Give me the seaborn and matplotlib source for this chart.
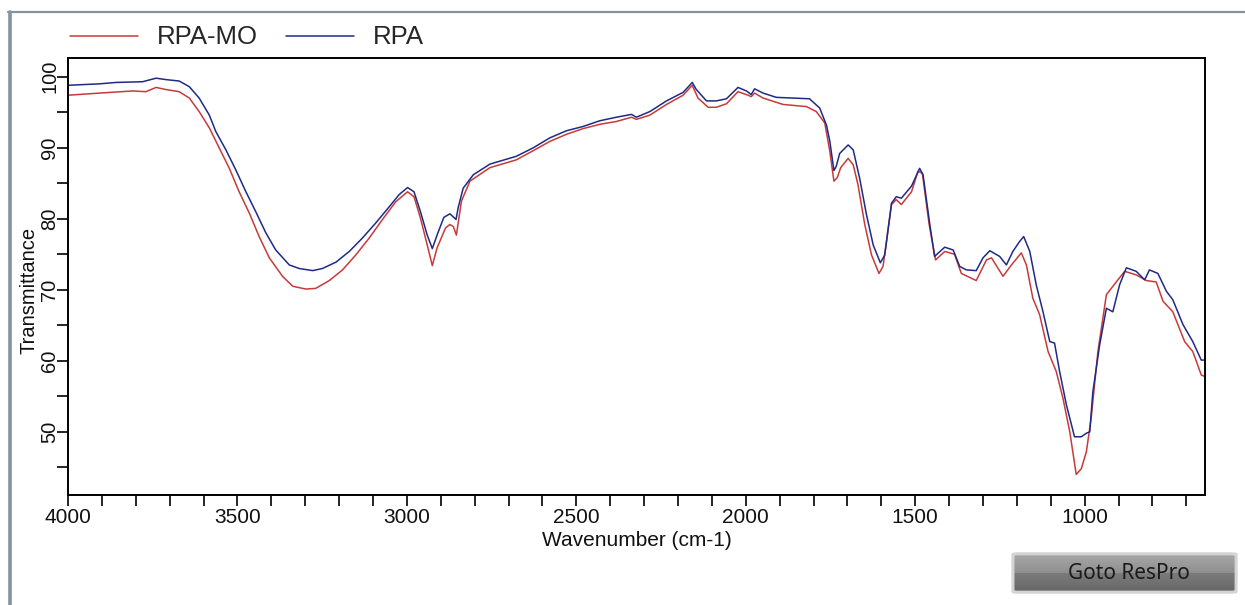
import numpy as np
import pandas as pd
import matplotlib
matplotlib.use("Agg")
import matplotlib.pyplot as plt
import seaborn as sns
from matplotlib import font_manager
from matplotlib.patches import FancyBboxPatch
from matplotlib.ticker import MultipleLocator, FuncFormatter

# FTIR spectra: wavenumber (cm-1) and transmittance (%)
rpa_mo_wn = [4000, 3908, 3809, 3770, 3740, 3711, 3672, 3642, 3613, 3583, 3554, 3524,
             3495, 3465, 3436, 3406, 3367, 3337, 3298, 3269, 3229, 3190, 3151, 3111,
             3072, 3033, 2998, 2979, 2960, 2940, 2925, 2911, 2886, 2873, 2863, 2854,
             2839, 2814, 2755, 2677, 2627, 2578, 2529, 2480, 2431, 2382, 2337, 2323,
             2283, 2234, 2185, 2158, 2141, 2111, 2087, 2057, 2023, 1993, 1984, 1974,
             1949, 1890, 1821, 1792, 1767, 1752, 1740, 1730, 1720, 1698, 1683, 1669,
             1649, 1629, 1607, 1595, 1570, 1556, 1541, 1511, 1492, 1479, 1459, 1440,
             1413, 1384, 1364, 1320, 1290, 1275, 1241, 1216, 1187, 1172, 1153, 1133,
             1108, 1084, 1064, 1044, 1025, 1010, 995, 981, 961, 936, 907, 882,
             848, 818, 789, 769, 740, 705, 681, 656, 646]
rpa_mo_t = [97.4, 97.7, 98.0, 97.9, 98.5, 98.2, 97.9, 97.0, 95.1, 92.8, 90.0, 87.1,
            83.8, 80.8, 77.5, 74.5, 71.9, 70.5, 70.1, 70.2, 71.3, 72.8, 74.9, 77.3,
            79.9, 82.4, 83.8, 83.1, 80.1, 76.3, 73.4, 75.9, 78.7, 79.2, 78.9, 77.7,
            82.5, 85.3, 87.2, 88.3, 89.6, 90.9, 91.9, 92.7, 93.3, 93.7, 94.3, 94.0,
            94.6, 96.1, 97.4, 98.8, 97.0, 95.7, 95.7, 96.2, 97.9, 97.4, 97.2, 97.7,
            97.0, 96.1, 95.8, 95.1, 93.5, 89.5, 85.3, 85.8, 87.2, 88.5, 87.6, 84.8,
            79.2, 74.9, 72.3, 73.3, 82.0, 82.7, 82.0, 83.8, 86.7, 86.4, 79.2, 74.2,
            75.4, 75.0, 72.3, 71.3, 74.2, 74.5, 71.9, 73.5, 75.2, 73.5, 68.8, 66.5,
            61.3, 58.5, 54.7, 50.0, 44.0, 44.8, 47.2, 51.9, 61.3, 69.3, 71.1, 72.6,
            72.1, 71.3, 71.1, 68.4, 66.9, 62.7, 61.3, 58.0, 57.8]

rpa_wn = [4000, 3908, 3858, 3780, 3740, 3711, 3672, 3642, 3613, 3583, 3564, 3534,
          3505, 3475, 3446, 3416, 3387, 3347, 3318, 3278, 3249, 3209, 3170, 3131,
          3092, 3052, 3023, 2998, 2979, 2960, 2940, 2925, 2911, 2891, 2873, 2855,
          2849, 2834, 2804, 2755, 2677, 2627, 2578, 2529, 2480, 2431, 2382, 2337,
          2323, 2283, 2234, 2185, 2158, 2146, 2116, 2087, 2057, 2023, 1998, 1984,
          1974, 1949, 1910, 1861, 1812, 1782, 1762, 1752, 1740, 1733, 1723, 1698,
          1683, 1664, 1644, 1624, 1603, 1590, 1570, 1556, 1541, 1511, 1487, 1477,
          1457, 1443, 1413, 1388, 1369, 1349, 1320, 1300, 1280, 1251, 1231, 1212,
          1192, 1180, 1162, 1143, 1123, 1103, 1089, 1074, 1054, 1030, 1010, 995,
          985, 976, 956, 936, 917, 897, 877, 848, 823, 809, 784, 759,
          740, 710, 681, 656, 646]
rpa_t = [98.8, 99.0, 99.2, 99.3, 99.8, 99.6, 99.4, 98.6, 97.0, 94.6, 92.3, 89.7,
         86.9, 83.8, 81.0, 78.0, 75.6, 73.5, 73.0, 72.7, 73.0, 73.9, 75.4, 77.3,
         79.4, 81.7, 83.4, 84.4, 83.8, 81.0, 77.7, 75.8, 77.7, 80.2, 80.7, 79.9,
         81.5, 84.3, 86.2, 87.7, 88.8, 90.0, 91.4, 92.4, 93.0, 93.8, 94.3, 94.7,
         94.3, 95.1, 96.6, 97.8, 99.2, 98.2, 96.6, 96.6, 96.9, 98.5, 98.0, 97.5,
         98.3, 97.7, 97.1, 97.0, 96.9, 95.6, 93.2, 90.9, 86.8, 87.4, 89.2, 90.4,
         89.7, 85.7, 80.6, 76.3, 73.8, 74.9, 82.2, 83.1, 82.9, 84.6, 87.1, 86.2,
         79.2, 74.7, 76.0, 75.6, 73.3, 72.8, 72.7, 74.5, 75.5, 74.7, 73.5, 75.4,
         76.8, 77.5, 75.4, 70.7, 66.9, 62.7, 62.5, 58.5, 53.8, 49.3, 49.3, 49.8,
         50.0, 55.6, 62.2, 67.4, 66.9, 70.7, 73.1, 72.6, 71.4, 72.8, 72.3, 69.8,
         68.6, 65.1, 62.7, 60.1, 60.1]

series_names = ["RPA-MO", "RPA"]
series_colors = ["#c83a3a", "#1f2a86"]
x_major_labels = [4000, 3500, 3000, 2500, 2000, 1500, 1000]
y_major_labels = [50, 60, 70, 80, 90, 100]

df = pd.concat([
    pd.DataFrame({"Wavenumber": rpa_mo_wn, "Transmittance": rpa_mo_t, "Sample": series_names[0]}),
    pd.DataFrame({"Wavenumber": rpa_wn, "Transmittance": rpa_t, "Sample": series_names[1]}),
], ignore_index=True)

sns.set_style("white")
installed = {f.name for f in font_manager.fontManager.ttflist}
narrow = "Liberation Sans Narrow" if "Liberation Sans Narrow" in installed else "Liberation Sans"
plt.rcParams["font.family"] = ["Liberation Sans", "DejaVu Sans"]

W, H = 1245, 605
fig = plt.figure(figsize=(W / 100, H / 100), dpi=100)
fig.patch.set_facecolor("white")
ax = fig.add_axes([68 / W, 1 - 495 / H, (1205 - 68) / W, (495 - 58.3) / H])

sns.lineplot(data=df, x="Wavenumber", y="Transmittance", hue="Sample",
             hue_order=series_names, palette=dict(zip(series_names, series_colors)),
             estimator=None, sort=False, linewidth=1.1, ax=ax, legend=False)

ax.set_xlim(4000, 645)
ax.set_ylim(41.1, 102.6)

for s in ax.spines.values():
    s.set_visible(True)
    s.set_color("black")
    s.set_linewidth(1.4)

ax.xaxis.set_major_locator(MultipleLocator(100))
ax.yaxis.set_major_locator(MultipleLocator(5))
ax.xaxis.set_major_formatter(FuncFormatter(
    lambda v, p: f"{int(round(v))}" if int(round(v)) in x_major_labels else ""))
ax.yaxis.set_major_formatter(FuncFormatter(
    lambda v, p: f"{int(round(v))}" if int(round(v)) in y_major_labels else ""))
ax.tick_params(axis="both", direction="out", length=7.8, width=1.2, color="black",
               bottom=True, left=True, top=False, right=False)
ax.tick_params(axis="x", labelsize=15, pad=1.5, labelcolor="#111111")
ax.tick_params(axis="y", labelsize=14.5, pad=-1.5, labelcolor="#111111")
for lbl in ax.get_yticklabels():
    lbl.set_rotation(90)
    lbl.set_family(narrow)
    lbl.set_rotation_mode("anchor")
    lbl.set_ha("center")
    lbl.set_va("bottom")

ax.set_xlabel("Wavenumber (cm-1)", fontsize=15, color="#111111")
ax.xaxis.label.set_va("top")
ax.xaxis.set_label_coords(0.5, -0.082)
ax.set_ylabel("Transmittance", fontsize=14.5, color="#111111", family=narrow)
ax.yaxis.label.set_va("center")
ax.yaxis.set_label_coords(-0.0345, 0.469)

# legend strip above the plot
handles = [plt.Line2D([], [], color=c, lw=1.1) for c in series_colors]
fig.legend(handles, series_names, loc="center left",
           bbox_to_anchor=(70 / W, 1 - 37.5 / H), ncol=2, frameon=False,
           fontsize=18.5, handlelength=2.65, handletextpad=0.72,
           columnspacing=1.1, borderpad=0, borderaxespad=0)

# window frame edges
fig.add_artist(plt.Line2D([9.5 / W, 9.5 / W], [0, 1 - 11.5 / H],
                          transform=fig.transFigure, color="#8592a4", lw=2.6))
fig.add_artist(plt.Line2D([8.2 / W, 1], [1 - 11.5 / H, 1 - 11.5 / H],
                          transform=fig.transFigure, color="#8592a4", lw=1.6))

# button in the lower right corner
bx0, bx1, by0, by1 = 1012, 1237, 553, 593
bax = fig.add_axes([bx0 / W, 1 - by1 / H, (bx1 - bx0) / W, (by1 - by0) / H])
grad = np.concatenate([np.linspace(0.66, 0.56, 20), np.linspace(0.48, 0.40, 20)])
bax.imshow(grad[:, None], aspect="auto", cmap="gray", vmin=0, vmax=1,
           extent=[0, 1, 0, 1], origin="upper")
bax.set_xlim(0, 1)
bax.set_ylim(0, 1)
bax.axis("off")
bax.add_patch(FancyBboxPatch((0.004, 0.02), 0.992, 0.96,
                             boxstyle="round,pad=0,rounding_size=0.02",
                             fill=False, ec="#d4d4d4", lw=2.2,
                             transform=bax.transAxes, clip_on=False))
bax.text(0.52, 0.48, "Goto ResPro", ha="center", va="center", fontsize=15,
         color="#1a1a1a", family=["Noto Sans", "DejaVu Sans"])

fig.savefig("out.png", dpi=100, facecolor="white")
